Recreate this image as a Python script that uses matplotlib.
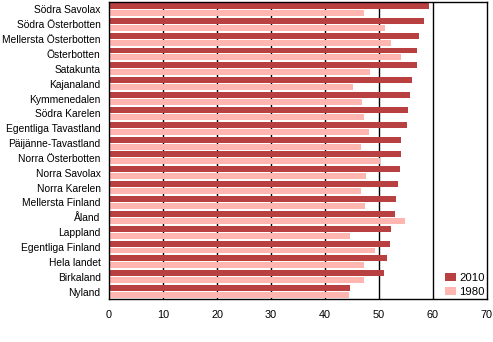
import matplotlib

matplotlib.use("Agg")
import matplotlib.pyplot as plt
import numpy as np

regions = [
    "Södra Savolax", "Södra Österbotten", "Mellersta Österbotten", "Österbotten",
    "Satakunta", "Kajanaland", "Kymmenedalen", "Södra Karelen",
    "Egentliga Tavastland", "Päijänne-Tavastland", "Norra Österbotten",
    "Norra Savolax", "Norra Karelen", "Mellersta Finland", "Åland", "Lappland",
    "Egentliga Finland", "Hela landet", "Birkaland", "Nyland",
]
share_2010 = [59.2, 58.3, 57.4, 57.0, 57.0, 56.1, 55.7, 55.3, 55.1, 54.0,
              54.0, 53.8, 53.5, 53.1, 52.9, 52.2, 52.0, 51.4, 50.9, 44.6]
share_1980 = [47.2, 51.1, 52.2, 54.0, 48.3, 45.1, 46.8, 47.2, 48.1, 46.6,
              50.1, 47.5, 46.6, 47.4, 54.9, 44.7, 49.2, 47.2, 47.2, 44.4]
xticks = [0, 10, 20, 30, 40, 50, 60, 70]

DARK = "#b94040"
LIGHT = "#ffb5b0"

plt.rcParams["font.family"] = ["Liberation Sans", "DejaVu Sans"]

fig = plt.figure(figsize=(4.93, 3.42), dpi=100)
ax = fig.add_axes([109 / 493, 1 - 299 / 342, 378 / 493, 297 / 342])

y = np.arange(len(regions))
h = 0.40
ax.barh(y - 0.235, share_2010, height=h, color=DARK, label="2010", zorder=2)
ax.barh(y + 0.235, share_1980, height=h, color=LIGHT, label="1980", zorder=2)

ax.set_xlim(0, 70)
ax.set_ylim(len(regions) - 0.5, -0.5)
ax.set_xticks(xticks)
ax.set_yticks(y)
ax.set_yticklabels(regions)
ax.tick_params(axis="both", length=0, colors="black")
ax.tick_params(axis="y", pad=6, labelsize=7.4)
ax.tick_params(axis="x", pad=8, labelsize=7.8)

# vertical grid sits behind the bars
for v in xticks[1:-1]:
    ax.axvline(v, color="black", lw=1, zorder=1)

for s in ax.spines.values():
    s.set_color("black")
    s.set_linewidth(1)

ax.legend(loc="lower right", frameon=False, fontsize=8.2, handlelength=1.0,
          handleheight=0.7, handletextpad=0.25, labelspacing=0.35,
          borderaxespad=0.2, bbox_to_anchor=(1.012, -0.015))

fig.savefig("out.png", dpi=100, facecolor="white")
